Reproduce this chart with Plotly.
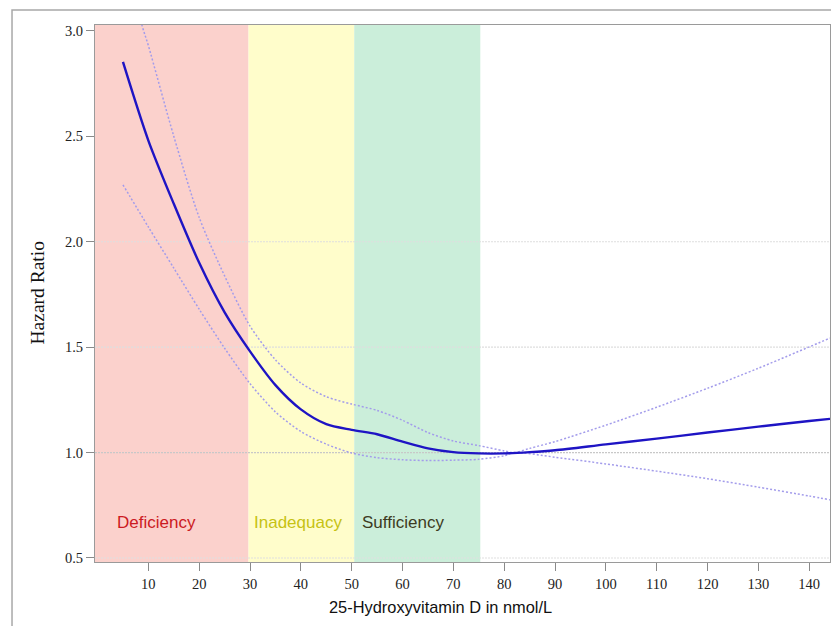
import plotly.graph_objects as go

# ---- data ----
x_main = [5, 10, 15, 20, 25, 30, 35, 40, 45, 50, 55, 60, 65, 70, 75, 80, 85, 90, 100, 110, 120, 130, 140, 144.1]
hr_main = [2.853, 2.48, 2.18, 1.90, 1.665, 1.48, 1.32, 1.205, 1.135, 1.108, 1.087, 1.052, 1.02, 1.002, 0.996, 0.996, 1.002, 1.011, 1.039, 1.066, 1.095, 1.123, 1.15, 1.16]

x_upper = [5, 8.7, 10, 15, 20, 25, 30, 35, 40, 45, 50, 55, 60, 65, 70, 75, 80, 82, 85, 90, 100, 110, 120, 130, 144.1]
hr_upper = [3.40, 3.03, 2.93, 2.50, 2.115, 1.838, 1.60, 1.44, 1.33, 1.265, 1.23, 1.20, 1.153, 1.095, 1.055, 1.033, 1.008, 1.0, 1.02, 1.052, 1.13, 1.215, 1.305, 1.40, 1.543]

x_lower = [5, 10, 15, 20, 25, 30, 35, 40, 45, 50, 55, 60, 65, 70, 75, 80, 82, 90, 100, 110, 120, 130, 140, 144.1]
hr_lower = [2.27, 2.07, 1.875, 1.68, 1.495, 1.327, 1.193, 1.10, 1.04, 0.998, 0.976, 0.966, 0.962, 0.964, 0.968, 0.985, 1.0, 0.978, 0.946, 0.912, 0.876, 0.836, 0.794, 0.776]

band_names = ["Deficiency", "Inadequacy", "Sufficiency"]
band_start = [-0.5, 29.7, 50.5]
band_end = [29.7, 50.5, 75.3]
band_fill = ["#FBD1CC", "#FFFDCB", "#CBEEDA"]
band_text_color = ["#CC1A22", "#C6C213", "#3D3B22"]
band_label_x = [11.6, 39.4, 60.1]
band_label_y = 0.67

ref_lines = [0.5, 1.0, 1.5, 2.0]
ref_colors = ["#E0E0E0", "#C8C8C8", "#DEDEDE", "#DEDEDE"]

x_ticks = list(range(10, 150, 10))
y_ticks = [0.5, 1.0, 1.5, 2.0, 2.5, 3.0]

x_range = [-0.5, 144.1]
y_range = [0.481, 3.028]

fig = go.Figure()

shapes = []
for s, e, c in zip(band_start, band_end, band_fill):
    shapes.append(dict(type="rect", xref="x", yref="paper", x0=s, x1=e, y0=0, y1=1,
                       fillcolor=c, line=dict(width=0), layer="below"))
for v, c in zip(ref_lines, ref_colors):
    shapes.append(dict(type="line", xref="paper", yref="y", x0=0, x1=1, y0=v, y1=v,
                       line=dict(color=c, width=1.2, dash="2px,1px"), layer="below"))
# outer frame
shapes.append(dict(type="rect", xref="paper", yref="paper", x0=-0.1129, x1=1.05, y0=-0.2, y1=1.0279,
                   line=dict(color="#A8A8A8", width=1.5), fillcolor="rgba(0,0,0,0)", layer="below"))

ci_line = dict(color="#A39CEB", width=1.5, dash="2px,2px", shape="spline", smoothing=0.8)
fig.add_trace(go.Scatter(x=x_upper, y=hr_upper, mode="lines", line=ci_line,
                         showlegend=False, hoverinfo="skip"))
fig.add_trace(go.Scatter(x=x_lower, y=hr_lower, mode="lines", line=ci_line,
                         showlegend=False, hoverinfo="skip"))
fig.add_trace(go.Scatter(x=x_main, y=hr_main, mode="lines",
                         line=dict(color="#1E14C4", width=2.4, shape="spline", smoothing=0.8),
                         showlegend=False))

annotations = []
for name, lx, col in zip(band_names, band_label_x, band_text_color):
    annotations.append(dict(x=lx, y=band_label_y, xref="x", yref="y", text=name, showarrow=False,
                            xanchor="center", yanchor="middle",
                            font=dict(family="Liberation Sans", size=17, color=col)))
annotations.append(dict(x=0.4707, y=-0.0838, xref="paper", yref="paper",
                        text="25-Hydroxyvitamin D in nmol/L", showarrow=False,
                        xanchor="center", yanchor="middle",
                        font=dict(family="Liberation Sans", size=16.4, color="#111111")))
annotations.append(dict(x=-0.0789, y=0.5, xref="paper", yref="paper", text="Hazard Ratio",
                        textangle=-90, showarrow=False, xanchor="center", yanchor="middle",
                        font=dict(family="Liberation Serif", size=19.5, color="#111111")))

fig.update_layout(
    width=831, height=626, autosize=False,
    margin=dict(l=95, r=1, t=25, b=64),
    paper_bgcolor="white", plot_bgcolor="white",
    shapes=shapes, annotations=annotations,
    xaxis=dict(range=x_range, tickvals=x_ticks, ticks="outside", ticklen=8, tickcolor="#8A8A8A",
               showline=True, linecolor="#9A9A9A", linewidth=1.2, mirror=True, showgrid=False,
               zeroline=False, tickfont=dict(family="Liberation Serif", size=14.5, color="#222222")),
    yaxis=dict(range=y_range, tickvals=y_ticks, tickformat=".1f", ticks="outside", ticklen=8,
               tickcolor="#8A8A8A", showline=True, linecolor="#9A9A9A", linewidth=1.2, mirror=True,
               showgrid=False, zeroline=False,
               tickfont=dict(family="Liberation Serif", size=14.5, color="#222222")),
)

fig.write_html("out.html", config={"displayModeBar": False},
               post_script="document.body.style.margin='0px';")
